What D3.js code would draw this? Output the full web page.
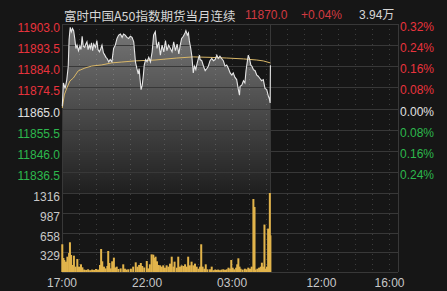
<!DOCTYPE html>
<html>
<head>
<meta charset="utf-8">
<script src="https://cdn.jsdelivr.net/npm/d3@7"></script>
<style>
  html, body { margin: 0; padding: 0; background: #161616; }
  svg { display: block; }
</style>
</head>
<body>
<div id="chart-area"></div>
<script>

// Header
var title = "富时中国A50指数期货当月连续";
var lastPrice = "11870.0";
var lastChange = "+0.04%";
var totalVolume = "3.94万";
var prevClose = 11865.0;

// Axis ticks
var priceTicks = [11903.0, 11893.5, 11884.0, 11874.5, 11865.0, 11855.5, 11846.0, 11836.5];
var pctTicks = ["0.32%", "0.24%", "0.16%", "0.08%", "0.00%", "0.08%", "0.16%", "0.24%"];
var volTicks = [1316, 987, 658, 329];
var timeTicks = [0, 300, 600, 915, 1155];          // minutes after 17:00 (trading time)
var timeLabels = ["17:00", "22:00", "03:00", "12:00", "16:00"];

// Price line (minutes after 17:00, price)
var priceTimes = [1, 5, 11, 17, 22, 25, 29, 33, 37, 41, 45, 49, 53, 58, 63, 67, 71, 75, 80, 84,
  88, 92, 96, 100, 104, 108, 112, 118, 123, 127, 132, 137, 141, 146, 151, 155, 159, 165, 170, 176,
  182, 188, 194, 200, 206, 212, 217, 223, 229, 235, 241, 247, 253, 259, 264, 269, 272, 275, 279, 283,
  287, 290, 295, 300, 306, 312, 318, 323, 329, 335, 341, 347, 353, 359, 365, 370, 376, 388, 394, 400,
  406, 412, 417, 422, 428, 434, 437, 442, 446, 449, 454, 458, 463, 467, 472, 475, 481, 485, 487, 493,
  499, 505, 511, 516, 522, 528, 534, 540, 546, 551, 557, 563, 569, 575, 581, 587, 593, 599, 604, 610,
  616, 622, 626, 628, 634, 640, 645, 649, 654, 657, 661, 666, 670, 675, 681, 687, 692, 698, 704, 710,
  716, 722, 728, 731, 734, 735];
var priceValues = [11866.0, 11876.5, 11874.0, 11878.0, 11884.0, 11896.0, 11901.5, 11899.5, 11901.0, 11900.0,
  11896.5, 11892.0, 11893.5, 11891.0, 11893.0, 11891.5, 11897.5, 11893.0, 11892.5, 11894.0,
  11895.0, 11891.5, 11893.5, 11892.0, 11894.5, 11891.0, 11894.0, 11892.5, 11895.5, 11891.5,
  11890.5, 11892.0, 11893.5, 11890.0, 11889.0, 11888.0, 11887.5, 11886.0, 11887.0, 11886.0,
  11892.0, 11893.5, 11896.5, 11898.0, 11898.5, 11897.0, 11898.5, 11898.0, 11897.0, 11896.5,
  11897.5, 11897.0, 11895.0, 11886.0, 11883.0, 11880.5, 11883.0, 11878.5, 11873.5, 11875.5,
  11880.0, 11884.5, 11887.0, 11886.0, 11888.0, 11886.0, 11890.5, 11898.0, 11899.5, 11892.0,
  11895.0, 11889.0, 11893.5, 11890.5, 11895.5, 11891.0, 11893.5, 11890.5, 11895.0, 11891.0,
  11894.0, 11889.5, 11893.5, 11896.5, 11897.5, 11899.0, 11900.0, 11898.0, 11899.0, 11895.5,
  11892.0, 11888.5, 11881.0, 11884.0, 11882.5, 11884.5, 11887.5, 11889.0, 11887.0, 11886.5,
  11884.0, 11882.0, 11883.0, 11884.0, 11886.5, 11887.5, 11886.5, 11887.0, 11889.0, 11887.5,
  11888.5, 11887.5, 11886.5, 11884.0, 11884.5, 11883.0, 11881.0, 11880.0, 11881.0, 11879.0,
  11878.0, 11873.5, 11871.0, 11875.0, 11875.5, 11877.5, 11876.5, 11882.0, 11886.5, 11889.0,
  11887.5, 11884.5, 11884.0, 11882.5, 11882.0, 11880.0, 11879.5, 11878.5, 11877.5, 11878.0,
  11874.0, 11873.5, 11870.5, 11869.5, 11867.5, 11884.5];

// Average price line
var avgTimes = [1, 8, 17, 28, 40, 57, 81, 105, 140, 175, 211, 257, 328, 405, 463, 522, 581, 640, 687, 710, 735];
var avgValues = [11865.2, 11871.1, 11874.2, 11877.4, 11878.7, 11881.9, 11883.2, 11884.1, 11884.6, 11885.5,
  11885.9, 11886.4, 11886.8, 11887.7, 11888.2, 11888.0, 11887.7, 11887.3, 11886.8, 11886.4, 11885.5];

// Volume bars
var volTimes = [1, 5, 8, 14, 19, 25, 28, 32, 36, 42, 48, 54, 60, 67, 72, 78, 85, 92, 99, 106,
  113, 120, 127, 134, 138, 142, 148, 154, 160, 163, 167, 172, 177, 183, 187, 193, 199, 207, 216, 222,
  228, 234, 243, 251, 260, 266, 272, 278, 283, 290, 299, 304, 310, 316, 322, 326, 330, 335, 340, 346,
  352, 357, 363, 369, 375, 381, 387, 393, 397, 405, 410, 416, 422, 428, 434, 440, 445, 451, 457, 463,
  469, 475, 481, 487, 491, 496, 502, 507, 513, 522, 528, 534, 540, 546, 551, 557, 563, 569, 575, 581,
  587, 593, 597, 602, 607, 614, 618, 622, 626, 630, 637, 645, 651, 657, 663, 669, 675, 679, 683, 689,
  695, 701, 705, 709, 714, 719, 723, 727, 730, 733, 735];
var volValues = [462, 233, 200, 172, 255, 316, 495, 283, 117, 272, 89, 216, 89, 128, 78, 40, 35, 45, 30, 40,
  35, 50, 40, 117, 383, 178, 89, 60, 100, 350, 150, 60, 178, 239, 75, 89, 50, 60, 128, 55,
  40, 45, 55, 89, 161, 89, 117, 150, 100, 75, 183, 60, 128, 294, 289, 233, 255, 178, 117, 111,
  89, 111, 72, 111, 89, 139, 255, 89, 172, 72, 255, 89, 111, 100, 128, 89, 255, 111, 172, 111,
  139, 89, 55, 89, 462, 89, 55, 128, 45, 45, 89, 30, 40, 35, 40, 30, 40, 45, 35, 45,
  72, 55, 200, 72, 45, 72, 128, 228, 89, 55, 40, 55, 45, 72, 55, 89, 1216, 1083, 40, 55,
  72, 89, 155, 89, 790, 55, 89, 723, 150, 1316, 611];

// Hourly grid lines (trading-time minutes), session break at 05:15 / 09:00
var hourLines = [60, 120, 180, 240, 300, 360, 420, 480, 540, 600, 660, 720, 795, 855, 915, 975, 1035, 1095, 1155];
var sessionBreak = 735;


var W = 447, H = 291;
var left = 62, right = 398;
var priceTop = 24, priceBottom = 193, volBottom = 272;

var numFont = "'Liberation Sans', Arial, sans-serif";
var red = "#e8333d", green = "#2db84d", white = "#e0e0e0";
var gridColor = "#383838";

var svg = d3.select("#chart-area").append("svg")
  .attr("width", W)
  .attr("height", H);

svg.append("rect").attr("width", W).attr("height", H).attr("fill", "#161616");

var x = d3.scaleLinear().domain([0, 1185]).range([left, right]);
var yPrice = d3.scaleLinear().domain([11827.0, 11903.0]).range([priceBottom, priceTop]);
var yVol = d3.scaleLinear().domain([0, 1316]).range([volBottom, priceBottom]);

// dotted hourly lines
svg.append("g").selectAll("line")
  .data(hourLines)
  .enter().append("line")
  .attr("x1", function(d) { return Math.round(x(d)) + 0.5; })
  .attr("x2", function(d) { return Math.round(x(d)) + 0.5; })
  .attr("y1", priceTop)
  .attr("y2", volBottom)
  .attr("stroke", "#3d3d3d")
  .attr("stroke-dasharray", "1,4");

var priceData = priceTimes.map(function(t, i) { return {t: t, v: priceValues[i]}; });
var avgData = avgTimes.map(function(t, i) { return {t: t, v: avgValues[i]}; });
var volData = volTimes.map(function(t, i) { return {t: t, v: volValues[i]}; });

// area under price
var grad = svg.append("defs").append("linearGradient")
  .attr("id", "areaFill")
  .attr("gradientUnits", "userSpaceOnUse")
  .attr("x1", 0).attr("x2", 0)
  .attr("y1", priceTop).attr("y2", priceBottom);
grad.append("stop").attr("offset", "0%").attr("stop-color", "#ffffff").attr("stop-opacity", 0.42);
grad.append("stop").attr("offset", "100%").attr("stop-color", "#ffffff").attr("stop-opacity", 0.04);

svg.append("path")
  .datum(priceData)
  .attr("fill", "url(#areaFill)")
  .attr("d", d3.area()
    .x(function(d) { return x(d.t); })
    .y0(priceBottom)
    .y1(function(d) { return yPrice(d.v); }));

// solid grid lines
var hLines = priceTicks.concat([11827.0]);
svg.append("g").selectAll("line")
  .data(hLines)
  .enter().append("line")
  .attr("x1", left).attr("x2", right)
  .attr("y1", function(d) { return Math.round(yPrice(d)) + 0.5; })
  .attr("y2", function(d) { return Math.round(yPrice(d)) + 0.5; })
  .attr("stroke", gridColor);

svg.append("g").selectAll("line")
  .data(volTicks.concat([0]))
  .enter().append("line")
  .attr("x1", left).attr("x2", right)
  .attr("y1", function(d) { return Math.round(yVol(d)) + 0.5; })
  .attr("y2", function(d) { return Math.round(yVol(d)) + 0.5; })
  .attr("stroke", gridColor);

svg.append("g").selectAll("line")
  .data([0, sessionBreak, 1185])
  .enter().append("line")
  .attr("x1", function(d) { return Math.round(x(d)) + 0.5; })
  .attr("x2", function(d) { return Math.round(x(d)) + 0.5; })
  .attr("y1", priceTop).attr("y2", volBottom)
  .attr("stroke", gridColor);

// volume bars
svg.append("g").selectAll("rect")
  .data(volData)
  .enter().append("rect")
  .attr("x", function(d) { return x(d.t) - 1; })
  .attr("width", 2)
  .attr("y", function(d) { return yVol(d.v); })
  .attr("height", function(d) { return volBottom - yVol(d.v); })
  .attr("fill", "#e2b44b");

// average line
svg.append("path")
  .datum(avgData)
  .attr("fill", "none")
  .attr("stroke", "#d9b768")
  .attr("stroke-width", 1)
  .attr("d", d3.line()
    .x(function(d) { return x(d.t); })
    .y(function(d) { return yPrice(d.v); }));

// price line
svg.append("path")
  .datum(priceData)
  .attr("fill", "none")
  .attr("stroke", "#e6e6e6")
  .attr("stroke-width", 1.1)
  .attr("d", d3.line()
    .x(function(d) { return x(d.t); })
    .y(function(d) { return yPrice(d.v); }));

// left price labels
svg.append("g").selectAll("text")
  .data(priceTicks)
  .enter().append("text")
  .attr("x", 60)
  .attr("y", function(d) { return yPrice(d) + 4; })
  .attr("text-anchor", "end")
  .attr("dominant-baseline", "central")
  .attr("font-family", numFont)
  .attr("font-size", 12)
  .attr("fill", function(d) { return d > prevClose ? red : (d < prevClose ? green : white); })
  .text(function(d) { return d.toFixed(1); });

// right percent labels
svg.append("g").selectAll("text")
  .data(pctTicks)
  .enter().append("text")
  .attr("x", 400)
  .attr("y", function(d, i) { return yPrice(priceTicks[i]) + 3; })
  .attr("dominant-baseline", "central")
  .attr("font-family", numFont)
  .attr("font-size", 12)
  .attr("fill", function(d, i) {
    var p = priceTicks[i];
    return p > prevClose ? red : (p < prevClose ? green : white);
  })
  .text(function(d) { return d; });

// volume labels
svg.append("g").selectAll("text")
  .data(volTicks)
  .enter().append("text")
  .attr("x", 60)
  .attr("y", function(d) { return yVol(d) + 4; })
  .attr("text-anchor", "end")
  .attr("dominant-baseline", "central")
  .attr("font-family", numFont)
  .attr("font-size", 12)
  .attr("fill", "#c8c8c8")
  .text(function(d) { return d; });

// time labels
svg.append("g").selectAll("text")
  .data(timeTicks)
  .enter().append("text")
  .attr("x", function(d) { return x(d); })
  .attr("y", 283)
  .attr("text-anchor", "middle")
  .attr("dominant-baseline", "central")
  .attr("font-family", numFont)
  .attr("font-size", 12)
  .attr("fill", "#c8c8c8")
  .text(function(d, i) { return timeLabels[i]; });

// header
var header = svg.append("g").attr("font-size", 12);
header.append("text")
  .attr("x", 64).attr("y", 15)
  .attr("dominant-baseline", "central")
  .attr("font-family", "'Noto Sans CJK SC', sans-serif")
  .attr("font-size", 12.5)
  .attr("fill", "#d6d6d6")
  .text(title);
header.append("text")
  .attr("x", 245).attr("y", 15)
  .attr("dominant-baseline", "central")
  .attr("font-family", numFont)
  .attr("fill", "#d23a41")
  .text(lastPrice);
header.append("text")
  .attr("x", 301).attr("y", 15)
  .attr("dominant-baseline", "central")
  .attr("font-family", numFont)
  .attr("fill", "#d23a41")
  .text(lastChange);
header.append("text")
  .attr("x", 359).attr("y", 15)
  .attr("dominant-baseline", "central")
  .attr("font-family", "'Liberation Sans', 'Noto Sans CJK SC', sans-serif")
  .attr("fill", "#d6d6d6")
  .text(totalVolume);

</script>
</body>
</html>
